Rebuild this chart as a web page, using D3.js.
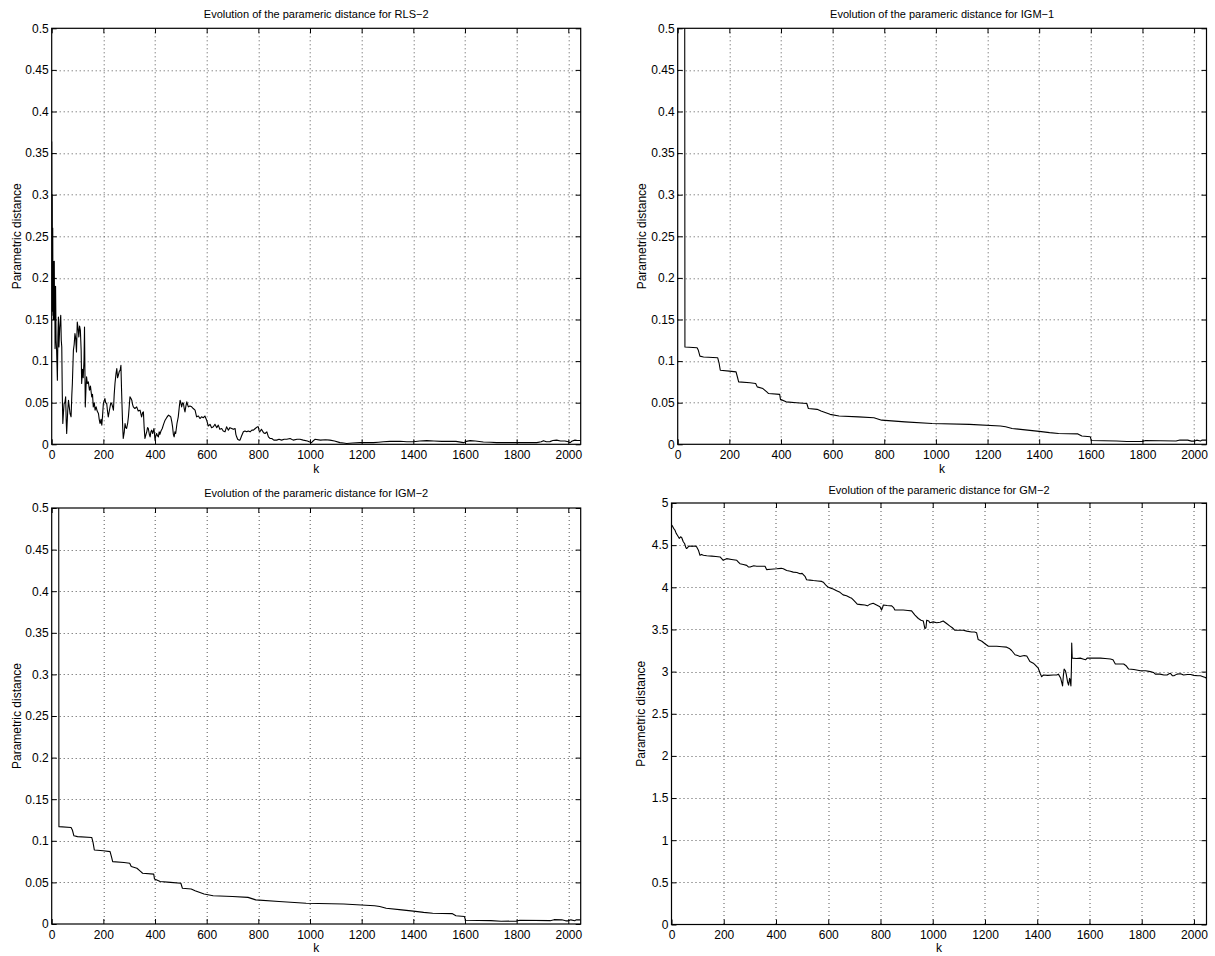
<!DOCTYPE html>
<html>
<head>
<meta charset="utf-8">
<script src="https://cdn.jsdelivr.net/npm/d3@7"></script>
<style>
  body { margin: 0; background: #fff; }
  svg text { font-family: "Liberation Sans", Arial, Helvetica, sans-serif; fill: #000; }
</style>
</head>
<body>
<svg id="fig" width="1215" height="956"></svg>
<script>
// Tick values
const kTicks = [0, 200, 400, 600, 800, 1000, 1200, 1400, 1600, 1800, 2000];
const distTicks = [0, 0.05, 0.1, 0.15, 0.2, 0.25, 0.3, 0.35, 0.4, 0.45, 0.5];
const gmTicks = [0, 0.5, 1, 1.5, 2, 2.5, 3, 3.5, 4, 4.5, 5];
const kMax = 2048;

// RLS-2: parametric distance vs k
const rlsK = [0,1,2,3,4,5,6,7,8,9,10,11,12,13,15,17,19,22,24,26,28,31,35,37,39,41,43,46,48,51,54,56,58,62,65,68,71,75,78,80,84,87,90,93,96,99,102,105,108,111,114,116,119,122,125,127,130,133,135,138,142,146,150,155,158,161,165,168,172,176,181,184,187,191,194,197,200,203,206,209,213,216,219,223,226,229,232,236,239,242,245,249,252,255,258,262,265,268,270,272,275,277,281,284,287,290,294,297,300,303,307,310,313,316,322,329,335,342,348,352,355,358,361,365,368,371,374,378,381,384,387,391,396,398,400,403,406,410,413,416,419,423,428,433,439,445,452,457,461,465,468,471,474,477,480,485,490,494,497,500,503,507,510,513,516,519,523,526,529,535,542,548,555,561,568,574,580,587,593,600,606,613,619,626,632,639,645,651,658,664,671,677,684,690,697,703,710,713,716,720,725,729,735,742,748,755,761,768,775,781,788,796,800,803,806,812,820,826,833,839,845,852,860,871,880,890,900,910,923,935,950,961,974,990,1006,1012,1019,1040,1060,1077,1095,1116,1130,1142,1165,1194,1220,1245,1265,1284,1310,1349,1375,1400,1425,1452,1480,1510,1542,1565,1594,1605,1620,1640,1671,1700,1723,1760,1800,1840,1878,1895,1904,1915,1929,1940,1955,1970,1987,2000,2007,2015,2026,2035,2048];
const rlsD = [0.364,0.16,0.30,0.17,0.26,0.155,0.22,0.15,0.21,0.165,0.22,0.15,0.19,0.115,0.19,0.125,0.113,0.077,0.13,0.153,0.117,0.14,0.155,0.125,0.117,0.06,0.025,0.04,0.049,0.05,0.057,0.03,0.013,0.04,0.053,0.045,0.037,0.033,0.06,0.073,0.113,0.12,0.133,0.127,0.111,0.147,0.14,0.129,0.142,0.137,0.113,0.073,0.09,0.08,0.1,0.141,0.045,0.07,0.081,0.073,0.075,0.065,0.07,0.057,0.06,0.045,0.05,0.041,0.045,0.04,0.037,0.03,0.025,0.03,0.023,0.035,0.049,0.052,0.055,0.05,0.049,0.04,0.033,0.04,0.045,0.05,0.049,0.045,0.041,0.06,0.073,0.085,0.091,0.08,0.083,0.088,0.089,0.095,0.07,0.049,0.02,0.007,0.015,0.025,0.02,0.019,0.025,0.033,0.045,0.057,0.055,0.053,0.048,0.045,0.043,0.045,0.04,0.041,0.033,0.038,0.039,0.02,0.007,0.012,0.015,0.02,0.019,0.012,0.009,0.015,0.017,0.013,0.019,0.012,0.005,0.01,0.013,0.01,0.009,0.015,0.012,0.016,0.019,0.024,0.029,0.032,0.035,0.034,0.033,0.027,0.021,0.012,0.009,0.015,0.013,0.025,0.033,0.045,0.053,0.05,0.045,0.05,0.049,0.043,0.039,0.045,0.051,0.048,0.045,0.046,0.045,0.043,0.041,0.033,0.034,0.031,0.033,0.032,0.034,0.029,0.022,0.024,0.02,0.021,0.024,0.02,0.023,0.018,0.019,0.016,0.015,0.021,0.017,0.02,0.019,0.018,0.019,0.012,0.009,0.006,0.005,0.005,0.01,0.015,0.016,0.015,0.016,0.015,0.017,0.017,0.019,0.021,0.021,0.016,0.015,0.018,0.014,0.013,0.015,0.009,0.007,0.007,0.005,0.005,0.006,0.005,0.006,0.006,0.007,0.005,0.006,0.006,0.005,0.004,0.002,0.004,0.006,0.005,0.0055,0.005,0.004,0.002,0.0015,0.001,0.0015,0.002,0.002,0.002,0.0025,0.003,0.0035,0.0036,0.003,0.003,0.004,0.0044,0.004,0.0035,0.0036,0.0035,0.002,0.0035,0.0044,0.004,0.0028,0.0025,0.002,0.002,0.002,0.0022,0.002,0.003,0.0044,0.003,0.0032,0.0045,0.005,0.004,0.004,0.003,0.002,0.004,0.005,0.0045,0.0045];

// IGM-1: step-wise decreasing distance (starts above the axis range)
const igm1K = [0,27,28,75,80,86,100,155,160,165,200,226,232,236,280,302,308,330,345,352,395,398,420,460,500,506,540,555,590,625,700,760,790,880,985,1130,1250,1270,1295,1355,1400,1440,1475,1550,1565,1598,1602,1700,1740,1800,1812,1930,1945,1975,1990,2000,2010,2025,2030,2048];
const igm1D = [0.6,0.6,0.117,0.116,0.113,0.106,0.105,0.104,0.098,0.089,0.088,0.087,0.080,0.075,0.074,0.073,0.069,0.067,0.063,0.061,0.060,0.054,0.051,0.050,0.049,0.043,0.042,0.040,0.036,0.034,0.033,0.032,0.029,0.027,0.025,0.024,0.022,0.021,0.019,0.017,0.0155,0.014,0.013,0.0125,0.010,0.009,0.0045,0.004,0.0033,0.0035,0.0045,0.004,0.0052,0.005,0.0038,0.0038,0.005,0.004,0.005,0.005];

// IGM-2
const igm2K = [0,27,28,75,80,86,100,155,160,165,200,226,232,236,280,302,308,330,345,352,395,398,420,460,500,506,540,555,590,625,700,760,790,880,985,1130,1250,1270,1295,1355,1400,1440,1475,1550,1565,1598,1602,1700,1740,1800,1812,1930,1945,1975,1990,2000,2010,2025,2030,2048];
const igm2D = [0.6,0.6,0.117,0.116,0.113,0.106,0.105,0.104,0.098,0.089,0.088,0.087,0.080,0.075,0.074,0.073,0.069,0.067,0.063,0.061,0.060,0.054,0.051,0.050,0.049,0.043,0.042,0.040,0.036,0.034,0.033,0.032,0.029,0.027,0.025,0.024,0.022,0.021,0.019,0.017,0.0155,0.014,0.013,0.0125,0.010,0.009,0.0045,0.004,0.0033,0.0035,0.0045,0.004,0.0052,0.005,0.0038,0.0038,0.005,0.004,0.005,0.005];

// GM-2
const gmK = [0,3,8,13,18,22,26,30,35,39,45,50,55,58,64,70,77,90,96,103,109,115,122,135,154,170,186,192,198,204,211,230,250,256,262,275,288,295,301,315,326,345,358,364,380,403,420,428,441,455,466,480,492,500,511,517,530,543,560,575,581,590,600,610,619,632,645,657,670,683,690,696,705,711,725,740,750,760,772,785,798,804,808,811,825,843,850,855,870,887,905,919,932,945,955,964,970,974,977,985,989,1002,1015,1028,1040,1053,1066,1075,1085,1100,1117,1130,1149,1160,1168,1174,1188,1200,1213,1230,1245,1265,1283,1295,1302,1315,1325,1334,1350,1360,1372,1385,1392,1404,1411,1417,1424,1440,1462,1475,1481,1490,1497,1500,1503,1508,1511,1516,1520,1524,1526,1529,1531,1532,1534,1550,1565,1575,1585,1591,1610,1625,1642,1660,1680,1690,1699,1715,1731,1740,1750,1770,1795,1815,1833,1845,1852,1870,1885,1897,1905,1910,1918,1923,1935,1949,1960,1975,1987,2000,2015,2025,2035,2044,2048];
const gmD = [4.74,4.73,4.70,4.68,4.64,4.62,4.60,4.58,4.60,4.59,4.54,4.52,4.47,4.46,4.48,4.49,4.486,4.49,4.48,4.44,4.38,4.39,4.38,4.375,4.37,4.365,4.36,4.34,4.32,4.33,4.34,4.33,4.32,4.30,4.28,4.27,4.26,4.24,4.24,4.255,4.25,4.25,4.25,4.21,4.215,4.22,4.225,4.22,4.20,4.19,4.18,4.175,4.16,4.165,4.13,4.09,4.085,4.08,4.075,4.07,4.06,4.03,4.00,3.99,3.98,3.96,3.94,3.91,3.90,3.88,3.87,3.85,3.82,3.80,3.795,3.79,3.78,3.80,3.81,3.79,3.77,3.73,3.76,3.79,3.785,3.78,3.76,3.73,3.73,3.73,3.725,3.72,3.67,3.63,3.61,3.60,3.51,3.52,3.61,3.60,3.58,3.59,3.58,3.585,3.60,3.57,3.54,3.52,3.49,3.49,3.49,3.48,3.47,3.47,3.46,3.38,3.36,3.33,3.30,3.30,3.30,3.295,3.29,3.27,3.25,3.20,3.19,3.18,3.19,3.185,3.12,3.10,3.08,3.04,2.98,2.94,2.96,2.955,2.96,2.96,2.97,2.92,2.83,2.95,3.03,3.01,2.97,2.88,2.84,2.92,2.90,2.83,3.05,3.34,3.16,3.155,3.16,3.15,3.14,3.16,3.16,3.16,3.16,3.155,3.15,3.14,3.09,3.09,3.09,3.07,3.03,3.025,3.01,3.01,3.00,2.99,2.97,2.97,2.96,2.96,2.975,2.98,2.95,2.95,2.97,2.975,2.96,2.965,2.965,2.955,2.95,2.95,2.94,2.93,2.92];

const titlePrefix = "Evolution of the parameric distance for ";

// Subplot layout (pixel boxes of each axes)
const panels = [
  { name: "RLS\u22122", k: rlsK, d: rlsD, yTicks: distTicks, yMax: 0.5,
    box: { left: 51.7, top: 28.3, width: 529, height: 416 }, ylabelX: 17, titleY: 18, kLabelY: 473, xLabelDy: 6 },
  { name: "IGM\u22121", k: igm1K, d: igm1D, yTicks: distTicks, yMax: 0.5,
    box: { left: 677.7, top: 28.3, width: 528.8, height: 416 }, ylabelX: 642, titleY: 18, kLabelY: 473, xLabelDy: 6 },
  { name: "IGM\u22122", k: igm2K, d: igm2D, yTicks: distTicks, yMax: 0.5,
    box: { left: 51.7, top: 508, width: 529, height: 416 }, ylabelX: 17, titleY: 497, kLabelY: 952, xLabelDy: 6 },
  { name: "GM\u22122", k: gmK, d: gmD, yTicks: gmTicks, yMax: 5,
    box: { left: 671.5, top: 503, width: 535, height: 421.5 }, ylabelX: 641, titleY: 494, kLabelY: 952, xLabelDy: 6 }
];

const svg = d3.select("#fig");
const fmt = d3.format("~g");

panels.forEach((p, i) => {
  const { left, top, width, height } = p.box;
  const x = d3.scaleLinear().domain([0, kMax]).range([0, width]);
  const y = d3.scaleLinear().domain([0, p.yMax]).range([height, 0]);

  const g = svg.append("g").attr("transform", `translate(${left},${top})`);

  // dotted grid
  const grid = g.append("g")
    .attr("stroke", "#555").attr("stroke-width", 1).attr("stroke-dasharray", "1,3").attr("fill", "none");
  grid.selectAll("line.vx").data(kTicks.filter(t => t > 0))
    .join("line").attr("class", "vx")
    .attr("x1", d => Math.round(x(d)) + 0.5).attr("x2", d => Math.round(x(d)) + 0.5)
    .attr("y1", 0).attr("y2", height);
  grid.selectAll("line.hy").data(p.yTicks.filter(t => t > 0 && t < p.yMax))
    .join("line").attr("class", "hy")
    .attr("y1", d => Math.round(y(d)) + 0.5).attr("y2", d => Math.round(y(d)) + 0.5)
    .attr("x1", 0).attr("x2", width);

  // data line, clipped to the axes box
  const clipId = "clip" + i;
  g.append("clipPath").attr("id", clipId)
    .append("rect").attr("x", 0).attr("y", 0).attr("width", width).attr("height", height);
  const pts = p.k.map((k, j) => [k, p.d[j]]);
  g.append("path")
    .datum(pts)
    .attr("clip-path", `url(#${clipId})`)
    .attr("fill", "none").attr("stroke", "#000").attr("stroke-width", 1.1)
    .attr("stroke-linejoin", "round")
    .attr("d", d3.line().x(d => x(d[0])).y(d => y(d[1])));

  // axes with inward ticks on all four sides
  const axB = d3.axisBottom(x).tickValues(kTicks).tickSize(-5).tickSizeOuter(0).tickPadding(p.xLabelDy).tickFormat(fmt);
  const axT = d3.axisTop(x).tickValues(kTicks).tickSize(-5).tickSizeOuter(0).tickFormat("");
  const axL = d3.axisLeft(y).tickValues(p.yTicks).tickSize(-5).tickSizeOuter(0).tickPadding(3).tickFormat(fmt);
  const axR = d3.axisRight(y).tickValues(p.yTicks).tickSize(-5).tickSizeOuter(0).tickFormat("");

  const style = sel => {
    sel.select(".domain").remove();
    sel.selectAll(".tick line").attr("stroke", "#000").attr("stroke-width", 1);
    sel.selectAll(".tick text").attr("font-size", 12).attr("font-family", null).attr("fill", "#000");
  };
  g.append("g").attr("transform", `translate(0,${height})`).call(axB).call(style);
  g.append("g").call(axT).call(style);
  g.append("g").call(axL).call(style);
  g.append("g").attr("transform", `translate(${width},0)`).call(axR).call(style);

  // box
  g.append("rect").attr("x", 0).attr("y", 0).attr("width", width).attr("height", height)
    .attr("fill", "none").attr("stroke", "#000").attr("stroke-width", 1.2);

  // labels
  svg.append("text")
    .attr("x", left + width / 2).attr("y", p.titleY)
    .attr("text-anchor", "middle").attr("font-size", 11)
    .text(titlePrefix + p.name);
  svg.append("text")
    .attr("x", left + width / 2).attr("y", p.kLabelY)
    .attr("text-anchor", "middle").attr("font-size", 12)
    .text("k");
  svg.append("text")
    .attr("transform", `translate(${p.ylabelX},${top + height / 2}) rotate(-90)`)
    .attr("dy", "0.35em")
    .attr("text-anchor", "middle").attr("font-size", 12)
    .text("Parametric distance");
});
</script>
</body>
</html>
